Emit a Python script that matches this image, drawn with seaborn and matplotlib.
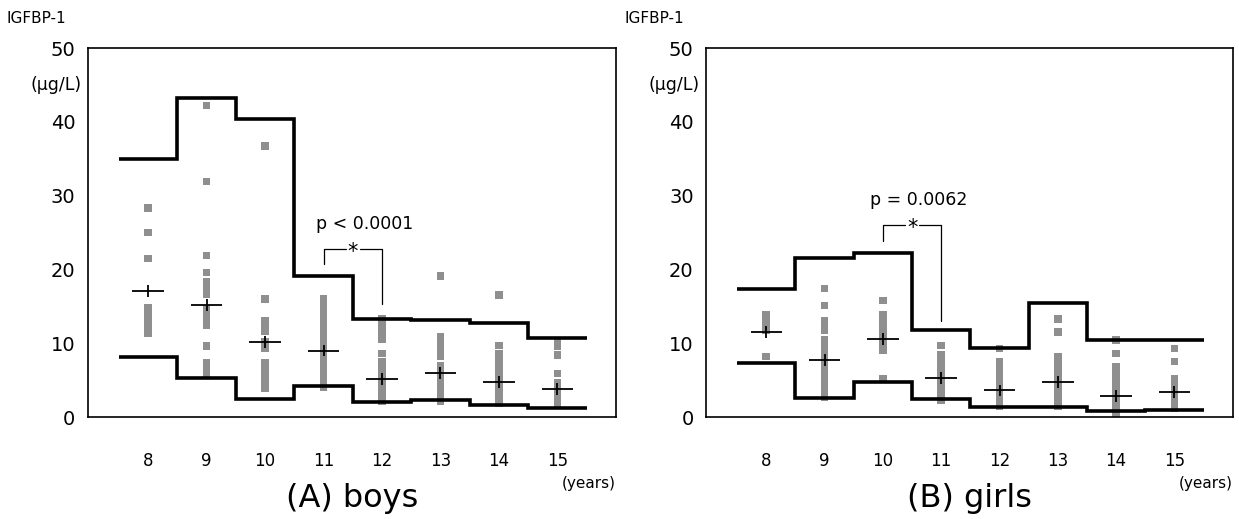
import numpy as np
import pandas as pd
import seaborn as sns
import matplotlib.pyplot as plt

sns.set_theme(style="white")
plt.rcParams['font.family'] = ['DejaVu Sans', 'Noto Sans CJK JP']
plt.rcParams['text.color'] = 'black'
plt.rcParams['xtick.color'] = 'black'
plt.rcParams['ytick.color'] = 'black'

ages = [8, 9, 10, 11, 12, 13, 14, 15]

# 男子
boys_upper = [35.0, 43.2, 40.4, 19.1, 13.3, 13.1, 12.7, 10.7]
boys_lower = [8.1, 5.3, 2.5, 4.2, 2.0, 2.3, 1.6, 1.2]
boys_mean = [17.1, 15.2, 10.2, 9.0, 5.1, 6.0, 4.7, 3.8]
boys_vals = {
    8: [28.3, 25.0, 21.5, 14.8, 14.0, 13.2, 12.5, 11.4],
    9: [42.2, 31.9, 21.9, 19.6, 18.3, 17.5, 16.7, 14.7, 13.9, 13.2, 12.4, 9.6, 7.4, 6.6, 5.9],
    10: [36.7, 16.0, 13.1, 12.3, 11.6, 10.2, 9.3, 7.3, 6.6, 5.7, 5.0, 4.4, 3.9],
    11: [16.0, 15.3, 14.7, 14.0, 13.4, 12.7, 12.0, 11.4, 10.7, 10.0, 9.4, 8.7, 8.0,
         7.4, 6.7, 6.0, 5.4, 4.7, 4.0],
    12: [13.3, 12.6, 11.9, 11.2, 10.5, 8.6, 7.5, 6.8, 6.1, 5.4, 4.7, 4.0, 3.3, 2.6, 2.1],
    13: [19.1, 10.9, 10.0, 9.1, 8.2, 7.0, 6.3, 5.6, 4.9, 4.1, 3.4, 2.7, 2.1],
    14: [16.5, 9.7, 8.6, 7.9, 7.2, 6.5, 5.8, 5.1, 4.4, 3.7, 3.0, 2.4, 1.9],
    15: [10.1, 9.6, 8.4, 5.9, 4.6, 3.9, 3.2, 2.5, 1.8],
}

# 女子
girls_upper = [17.4, 21.6, 22.2, 11.8, 9.4, 15.5, 10.4, 10.4]
girls_lower = [7.3, 2.6, 4.8, 2.5, 1.4, 1.4, 0.8, 0.9]
girls_mean = [11.5, 7.7, 10.6, 5.3, 3.6, 4.7, 2.9, 3.4]
girls_vals = {
    8: [13.9, 13.1, 12.4, 11.8, 8.2],
    9: [17.4, 15.1, 13.1, 12.4, 11.8, 10.4, 9.7, 9.0, 8.3, 7.6, 6.9, 6.2, 5.5,
        4.8, 4.1, 3.4, 2.7],
    10: [15.8, 13.8, 13.1, 12.4, 11.7, 11.0, 10.3, 9.6, 9.1, 5.2],
    11: [9.7, 8.4, 7.8, 7.3, 6.4, 5.7, 5.0, 4.3, 3.6, 2.9, 2.3],
    12: [9.3, 7.5, 6.8, 6.1, 5.4, 4.7, 4.0, 3.3, 2.6, 2.0, 1.4],
    13: [13.3, 11.5, 8.1, 7.4, 6.7, 6.0, 5.3, 4.6, 3.9, 3.2, 2.5, 1.9, 1.4],
    14: [10.4, 8.6, 6.8, 6.1, 5.4, 4.7, 4.0, 3.3, 2.6, 1.9, 1.2, 0.5],
    15: [9.3, 7.5, 5.2, 4.5, 3.8, 3.1, 2.4, 1.8, 1.2],
}

fig = plt.figure(figsize=(12.39, 5.19), dpi=100)
ax_b = fig.add_axes([0.071, 0.1965, 0.426, 0.711])
ax_g = fig.add_axes([0.570, 0.1965, 0.425, 0.711])

panels = [
    (ax_b, boys_vals, boys_upper, boys_lower, boys_mean, '(A) boys'),
    (ax_g, girls_vals, girls_upper, girls_lower, girls_mean, '(B) girls'),
]

edges = np.arange(7.5, 16.5, 1.0)

for ax, vals, upper, lower, mean, title in panels:
    df = pd.DataFrame([(a, v) for a in ages for v in vals[a]], columns=['age', 'value'])
    sns.scatterplot(data=df, x='age', y='value', marker='s', s=30,
                    color='#8f8f8f', edgecolor='none', ax=ax, zorder=2)
    ax.errorbar(ages, mean, xerr=0.27, yerr=0.8, fmt='none', ecolor='black',
                elinewidth=1.3, capsize=0, zorder=3)
    ax.stairs(upper, edges, baseline=None, color='black', lw=2.6, zorder=4)
    ax.stairs(lower, edges, baseline=None, color='black', lw=2.6, zorder=4)

    ax.set_xlim(6.97, 16.0)
    ax.set_ylim(0, 50)
    ax.set_xticks(ages)
    ax.set_xticklabels([str(a) for a in ages], fontsize=12)
    ax.set_yticks([0, 10, 20, 30, 40, 50])
    ax.set_yticklabels(['0', '10', '20', '30', '40', '50'], fontsize=14)
    ax.tick_params(direction='out', length=6, width=1.1, color='black', pad=3)
    ax.tick_params(axis='x', pad=19)
    ax.set_xlabel('')
    ax.set_ylabel('')
    for sp in ax.spines.values():
        sp.set_color('black')
        sp.set_linewidth(1.2)

    ax.text(-0.012, 45, '(μg/L)', transform=ax.get_yaxis_transform(),
            ha='right', va='center', fontsize=12.5)
    ax.text(-0.155, 1.06, 'IGFBP-1', transform=ax.transAxes,
            ha='left', va='bottom', fontsize=11)
    ax.text(1.0, -0.18, '(years)', transform=ax.transAxes,
            ha='right', va='center', fontsize=11)
    ax.text(0.5, -0.222, title, transform=ax.transAxes,
            ha='center', va='center', fontsize=23)

# 有意差の注記
ax_b.plot([11, 11, 11.38], [20.8, 22.8, 22.8], color='black', lw=0.9)
ax_b.plot([11.62, 12, 12], [22.8, 22.8, 15.3], color='black', lw=0.9)
ax_b.text(11.5, 22.4, '*', ha='center', va='center', fontsize=15)
ax_b.text(11.7, 26.2, 'p < 0.0001', ha='center', va='center', fontsize=12.5)

ax_g.plot([10, 10, 10.38], [23.9, 26.0, 26.0], color='black', lw=0.9)
ax_g.plot([10.62, 11, 11], [26.0, 26.0, 13.0], color='black', lw=0.9)
ax_g.text(10.5, 25.6, '*', ha='center', va='center', fontsize=15)
ax_g.text(10.62, 29.4, 'p = 0.0062', ha='center', va='center', fontsize=12.5)

fig.savefig('out.png', dpi=100)
